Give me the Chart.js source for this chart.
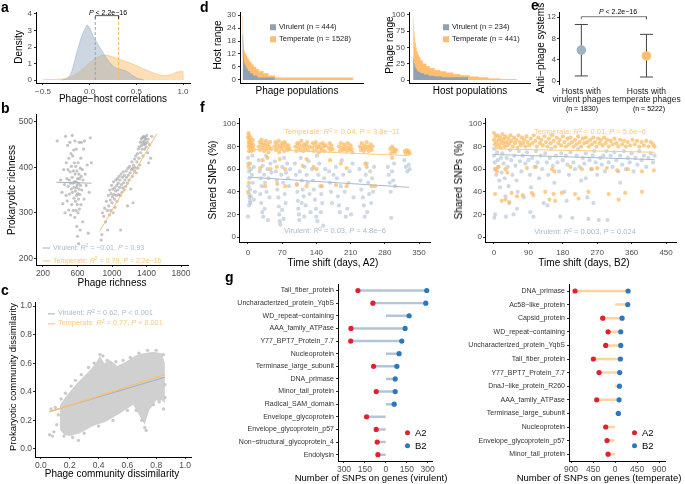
<!DOCTYPE html>
<html>
<head>
<meta charset="utf-8">
<script src="https://cdn.jsdelivr.net/npm/chart.js@4.4.0/dist/chart.umd.min.js"></script>
<style>
body{margin:0;background:#fff;width:685px;height:484px;position:relative;overflow:hidden;font-family:"Liberation Sans",Arial,sans-serif}
canvas{position:absolute}
.t{position:absolute;white-space:nowrap;line-height:1;transform:translate(-50%,-50%);color:#000}
.l{transform:translate(0,-50%)}
.r{transform:translate(-50%,-50%) rotate(-90deg)}
.lab{position:absolute;font-weight:bold;font-size:14px;line-height:14px}
sup{font-size:0.7em;line-height:0;vertical-align:0.45em}
.key{display:inline-block;width:7px;height:1px;vertical-align:middle;margin-right:3px}
.sq{display:inline-block;width:6px;height:6px;margin-right:3px;vertical-align:-0.5px}
.dot{display:inline-block;width:5px;height:5px;border-radius:50%;margin-right:5px;vertical-align:1px}
</style>
</head>
<body>
<script>
var FONT = '"Liberation Sans", Arial, sans-serif';
Chart.defaults.font.family = FONT;
var VIR = '#9fb3c8', TEM = '#fdbf6f', RED = '#e0202f', BLUE = '#2e77bd';

// a - density of phage-host correlations
var aVirX = [-0.3,-0.25,-0.2,-0.15,-0.1,-0.05,-0.025,0,0.05,0.08,0.1,0.15,0.2,0.25,0.3,0.35,0.4,0.45,0.5,0.55,0.58];
var aVirY = [0,0.08,0.4,1.4,2.4,3.1,3.33,3.15,2.5,2.25,2.05,1.6,1.15,0.85,0.68,0.62,0.52,0.32,0.14,0.04,0];
var aTemX = [-0.5,-0.4,-0.3,-0.2,-0.1,0,0.05,0.1,0.15,0.2,0.25,0.3,0.35,0.4,0.5,0.6,0.7,0.75,0.8,0.85,0.9,0.95,1.0,1.003];
var aTemY = [0.02,0.03,0.06,0.2,0.55,1.05,1.25,1.42,1.5,1.48,1.4,1.3,1.2,1.1,0.88,0.62,0.4,0.32,0.28,0.3,0.4,0.5,0.52,0];
var aMeans = [0.06, 0.31];
var aXTicks = [-0.5,0,0.5,1], aXLabels = ['−0.5','0.0','0.5','1.0'];
var aYTicks = [0,1,2,3,4];

// b - richness (x,y pairs)
var bVir = [365,458,405,372,420,345,430,320,440,395,450,362,455,300,462,468,468,338,470,410,478,375,480,326,485,448,490,395,492,358,498,306,500,420,505,372,508,341,512,455,515,390,518,365,520,295,525,430,528,352,530,402,533,318,538,378,540,470,542,345,545,425,548,365,550,305,553,392,556,438,558,356,560,332,563,410,565,368,568,290,570,458,572,385,575,348,577,325,580,402,582,368,584,305,586,440,588,355,590,338,592,270,594,392,596,360,598,318,600,248,602,375,604,342,606,300,608,410,610,365,612,330,614,232,616,385,618,352,620,455,622,308,625,375,628,340,630,262,632,398,635,360,638,420,640,318,643,380,646,455,650,350,655,395,660,280,665,372,670,440,676,330,682,458,690,385,700,360,712,405,725,255,735,345,748,465,760,410];
var bTem = [875,240,882,252,890,300,905,292,915,310,925,280,935,325,945,305,950,262,958,338,962,315,970,295,975,350,980,328,985,305,990,342,995,360,1000,322,1005,335,1010,352,1012,300,1018,368,1022,340,1028,330,1032,355,1035,312,1040,348,1045,372,1050,338,1055,360,1058,325,1062,375,1068,350,1072,365,1078,340,1082,380,1088,356,1092,372,1098,338,1100,262,1105,385,1110,362,1115,345,1120,378,1125,355,1130,390,1135,366,1140,350,1145,382,1150,372,1158,358,1165,392,1170,378,1178,365,1180,315,1185,398,1190,383,1198,372,1205,402,1210,388,1218,352,1225,395,1230,412,1235,380,1240,398,1245,322,1250,405,1258,392,1262,418,1268,400,1275,425,1280,388,1288,412,1295,430,1300,398,1305,440,1312,420,1318,445,1322,405,1328,455,1332,432,1338,462,1342,448,1348,440,1352,465,1356,455,1360,425,1365,468,1370,450,1375,458,1378,440,1382,466,1386,452,1392,462,1396,445,1402,470,1408,455,1412,432,1418,462,1425,410,1435,450,1448,420,1460,468];
var bVirFit = [355,367,763,365], bTemFit = [860,260,1520,474];
var bXTicks = [200,600,1000,1400,1800], bYTicks = [200,300,400,500];

// c - community dissimilarity (cloud outline + loose points)
var cUpX = [0.13,0.16,0.2,0.25,0.3,0.34,0.38,0.41,0.44,0.48,0.53,0.59,0.65,0.71,0.78,0.84,0.86];
var cUpY = [0.3,0.35,0.4,0.46,0.51,0.55,0.6,0.65,0.6,0.62,0.58,0.61,0.65,0.67,0.68,0.67,0.6];
var cLoX = [0.125,0.13,0.16,0.2,0.27,0.36,0.45,0.55,0.64,0.68,0.72,0.75,0.8,0.84,0.86,0.865];
var cLoY = [0.14,0.14,0.1,0.09,0.11,0.16,0.19,0.25,0.31,0.24,0.17,0.27,0.34,0.34,0.32,0.32];
var cOut = [0.06,0.1,0.08,0.09,0.09,0.12,0.07,0.28,0.1,0.29,0.12,0.24,0.11,0.17,0.14,0.35,0.17,0.39,0.21,0.44,0.24,0.48,0.28,0.52,0.33,0.57,0.37,0.6,0.41,0.66,0.43,0.65,0.46,0.62,0.52,0.61,0.57,0.62,0.62,0.64,0.68,0.67,0.74,0.69,0.8,0.69,0.85,0.66,0.86,0.45,0.86,0.36,0.85,0.28,0.72,0.15,0.73,0.13,0.7,0.2,0.66,0.27,0.6,0.27,0.5,0.2,0.4,0.16,0.3,0.11,0.22,0.08,0.16,0.09,0.78,0.31,0.82,0.33,0.26,0.06];
var cVirFit = [0.06,0.262,0.86,0.502], cTemFit = [0.06,0.26,0.86,0.52];
var cTicks = [0,0.2,0.4,0.6,0.8,1], cLabels = ['0.0','0.2','0.4','0.6','0.8','1.0'];

// d - host range / phage range, sorted populations (step start index, value)
var dVirX = [0,2,4,7,11,16,24,35,50,70,100,140,200,300,444];
var dVirY = [21,17,14,12,10,9,8,7,6,5,4,3,2,1,1];
var dTemX = [0,2,5,9,14,20,30,45,60,80,100,125,150,185,220,285,354,446,768,1528];
var dTemY = [29,25,21,18,16,14,13,12,11,10,9,8,7,6,5,4,3,2,1,1];
var dRVirX = [0,2,5,9,14,20,30,45,65,90,120,160,234];
var dRVirY = [35,30,25,20,17,14,12,10,8,6,5,4,4];
var dRTemX = [0,2,4,7,10,14,18,24,30,40,55,70,90,115,140,170,200,240,280,320,370,410,441];
var dRTemY = [97,85,75,65,57,50,44,39,35,30,25,21,18,15,13,11,9,7,5,4,2,1,1];

// e - anti-phage systems
var eGroups = [['Hosts with','virulent phages'],['Hosts with','temperate phages']];
var eN = ['(n = 1830)','(n = 5222)'];
var eMean = [5.8,4.7], eLow = [0.95,0.75], eHigh = [10.6,8.75];
var eTicks = [0,4,8,12];

// f - shared SNPs vs time shift (x,y pairs)
var fA2Tem = [0,88,1,84,1,80,1,92,2,90,2,76,3,86,3,82,4,78,5,84,5,88,6,80,7,76,8,83,9,79,10,86,11,81,12,77,1,62,2,48,0,40,4,65,
22,80,24,84,25,77,27,82,28,86,30,79,32,83,33,76,35,81,37,85,38,78,40,82,42,75,43,80,45,84,47,78,25,61,30,68,40,70,46,60,35,45,
54,80,56,84,57,77,59,82,61,79,63,85,64,75,66,81,68,78,70,83,72,80,74,76,75,84,77,82,79,79,81,77,83,81,85,78,59,62,65,69,76,60,76,45,60,47,
97,80,99,76,101,83,103,79,105,82,107,77,109,85,111,80,113,76,115,82,117,78,119,81,121,84,123,77,125,80,120,69,120,45,112,63,100,46,
131,79,133,83,135,76,137,81,139,84,141,78,143,80,145,75,147,82,149,79,151,77,153,83,155,80,157,76,159,81,134,62,151,45,140,60,
165,79,167,83,169,77,171,81,173,78,186,80,188,76,190,83,192,79,194,77,196,82,198,78,200,80,202,76,204,83,206,79,208,77,210,81,212,78,214,75,168,68,202,61,202,45,180,46,190,65,
229,80,231,77,233,83,235,79,237,76,239,81,241,78,243,84,245,80,247,76,249,79,251,82,253,77,255,80,243,62,240,65,253,45,260,45,
291,78,293,74,295,80,297,76,299,78,301,75,303,77,295,70,321,76,323,74,325,77,327,75,329,76,331,74];
var fA2Vir = [0,70,1,65,2,58,3,52,1,45,2,38,3,35,4,32,5,30,6,36,2,28,4,42,0,18,6,60,8,55,10,48,12,62,14,40,9,72,12,33,
22,68,24,58,26,52,28,45,25,38,27,30,29,22,31,18,30,63,33,55,35,48,37,72,38,40,40,60,42,52,44,35,46,65,48,57,34,25,41,15,
55,67,57,58,59,50,60,42,62,35,63,27,64,20,65,14,66,11,68,55,70,62,72,48,74,70,75,38,77,30,78,57,80,65,82,52,84,45,86,60,70,24,73,16,
96,65,98,55,100,47,101,40,102,32,103,25,104,20,105,15,106,58,108,70,110,50,112,42,114,36,116,62,118,28,120,55,122,48,124,67,126,38,128,22,110,30,115,18,
131,60,133,50,135,42,137,33,139,25,140,18,142,14,144,55,146,65,148,45,150,38,152,30,154,10,156,52,158,60,141,72,149,22,
166,58,168,48,170,40,172,30,175,55,180,62,182,52,184,36,186,28,188,22,190,45,192,68,195,55,198,40,200,18,203,25,206,48,208,58,211,20,214,65,216,35,
228,60,230,50,232,42,235,35,237,28,239,18,241,55,243,65,246,48,248,38,250,58,252,30,254,52,256,40,258,62,244,22,
286,62,288,55,290,48,292,40,293,17,295,58,297,50,299,65,301,45,320,68,323,62,326,58,329,64,331,60];
var fB2Tem = [0,92,0,86,2,82,4,89,6,84,8,80,10,90,12,86,14,82,16,88,18,79,20,85,22,91,24,83,26,87,28,80,30,89,32,84,35,81,38,87,40,83,43,90,46,85,49,80,52,88,55,83,58,86,61,79,64,90,67,84,70,81,73,88,76,83,79,86,82,80,85,89,88,84,92,81,96,87,100,83,104,90,108,85,112,80,116,88,120,83,124,86,128,81,132,89,136,84,140,80,144,87,148,83,152,90,156,85,160,80,164,88,168,83,172,86,176,81,180,89,184,84,188,80,192,87,196,82,200,88,204,84,208,80,212,86,216,82,220,89,224,84,228,80,232,87,236,83,240,88,244,84,248,80,252,86,256,82,260,88,264,84,268,80,272,87,276,83,280,86,284,81,288,88,292,83,296,86,300,80,305,85,310,82,315,87,320,83,325,80,330,86,335,82,340,85,345,80,350,84,356,81,362,86,368,82,374,85,380,80,386,84,392,81,398,85,404,80,410,84,416,82,420,80,
3,60,8,58,11,62,30,60,35,57,86,61,152,60,158,58,256,60,295,61,322,59,387,58,418,59,110,62,200,62,230,60,270,61,350,60,
3,38,20,32,30,33,40,31,46,39,99,39,103,37,134,40,145,33,156,38,160,32,177,39,212,38,221,34,247,40,300,38,326,33,343,39,387,40,60,36,75,37];
var fB2Vir = [0,78,0,72,2,66,4,60,6,55,3,20,1,17,8,75,10,68,12,62,14,50,16,44,18,70,20,57,22,74,25,65,28,52,30,36,31,18,33,70,36,62,38,45,40,30,42,77,45,68,48,55,51,20,53,72,56,63,59,50,62,40,65,76,68,67,72,58,75,72,78,35,82,65,86,75,90,68,94,55,97,44,100,70,103,18,106,62,110,76,114,66,118,52,122,72,126,60,130,30,134,74,138,66,142,55,146,70,150,78,154,63,158,48,162,72,166,66,170,58,173,18,176,74,180,68,184,40,188,72,192,64,196,55,200,75,205,17,208,66,212,60,216,72,220,78,224,62,228,50,232,70,236,65,240,74,244,35,247,16,250,68,254,60,258,72,262,76,266,66,270,55,274,15,278,70,282,64,286,72,290,58,294,76,297,15,300,66,305,72,310,62,315,75,320,68,325,58,330,72,335,64,340,76,345,60,350,70,355,66,360,74,365,58,370,70,375,64,380,76,386,68,392,72,398,62,404,70,410,74,416,66,420,72,60,25,140,28,190,32,260,30,95,22,330,48,240,52];
var fA2TemFit = [0,78,330,72], fA2VirFit = [0,53,330,44];
var fB2TemFit = [0,78,420,75], fB2VirFit = [0,73,420,68.5];
var fA2Ticks = [0,70,140,210,280,350], fB2Ticks = [0,90,180,270,360,450], fYTicks = [0,20,40,60,80,100];

// g - SNPs per gene, A2 shown to the left (negative), B2 to the right
var gVirGenes = ['Tail_fiber_protein','Uncharacterized_protein_YqbS','WD_repeat−containing','AAA_family_ATPase','Y77_BPT7_Protein_7.7','Nucleoprotein','Terminase_large_subunit','DNA_primase','Minor_tail_protein','Radical_SAM_domain','Envelope_glycoprotein','Envelope_glycoprotein_p57','Non−structural_glycoprotein_4','Endolysin'];
var gVirA2 = [-200,-93,null,-250,-252,null,-88,null,-69,null,-138,-69,-62,-57];
var gVirB2 = [293,286,167,138,114,95,79,67,67,60,null,null,null,null];
var gTemGenes = ['DNA_primase','Ac58−like_protein','Capsid_protein','WD_repeat−containing','Uncharacterized_protein_YqbS','Tail_fiber_protein','Y77_BPT7_Protein_7.7','DnaJ−like_protein_R260','AAA_family_ATPase','Terminase_large_subunit','Nucleoprotein','Envelope_glycoprotein_p57','Minor_tail_protein'];
var gTemA2 = [-818,null,-252,-143,-191,-443,-327,null,-375,null,-191,-164,-143];
var gTemB2 = [266,259,143,116,116,109,95,89,82,68,null,null,null];
var gVirTicks = [-300,-150,0,150,300], gTemTicks = [-900,-450,0,450,900];

function pairs(a) { var o = []; for (var i = 0; i < a.length; i += 2) o.push({x: a[i], y: a[i + 1]}); return o; }
function zip(xs, ys) { return xs.map(function (x, i) { return {x: x, y: ys[i]}; }); }
function line(data, color, w, extra) {
  var d = {data: data, showLine: true, borderColor: color, borderWidth: w, pointRadius: 0, fill: false};
  for (var k in extra) d[k] = extra[k];
  return d;
}
function dots(data, color, r) {
  return {data: data, showLine: false, pointRadius: r, pointBackgroundColor: color, backgroundColor: color, pointBorderWidth: 0, borderWidth: 0};
}
function mk(x, y, w, h) {
  var c = document.createElement('canvas');
  c.width = w; c.height = h;
  c.style.left = x + 'px'; c.style.top = y + 'px';
  c.style.width = w + 'px'; c.style.height = h + 'px';
  document.body.appendChild(c);
  return c.getContext('2d');
}
function axis(min, max, ticks, labels, size, more) {
  more = more || {};
  return {
    type: 'linear', min: min, max: max,
    afterBuildTicks: function (s) { s.ticks = ticks.map(function (v) { return {value: v}; }); },
    afterFit: function (s) { if (s.isHorizontal()) s.height = size; else s.width = size; },
    border: Object.assign({display: true, color: '#000', width: 1}, more.border),
    grid: Object.assign({drawOnChartArea: false, drawTicks: true, tickLength: 2, color: '#333', lineWidth: 1}, more.grid),
    ticks: Object.assign({autoSkip: false, maxRotation: 0, padding: 2, color: '#4d4d4d', font: {family: FONT, size: 8},
      callback: function (v, i) { return labels ? labels[i] : String(v); }}, more.ticks)
  };
}
function catAxis(size) {
  return {type: 'category', offset: true,
    afterFit: function (s) { s.width = size; },
    border: {display: true, color: '#000', width: 1},
    grid: {drawOnChartArea: false, offset: false, tickLength: 2, color: '#333'},
    ticks: {autoSkip: false, padding: 2, color: '#333', font: {family: FONT, size: 7}}};
}
function base(pt, pr, scales, extra) {
  var o = {responsive: false, animation: false, events: [],
    layout: {padding: {top: pt, right: pr, left: 0, bottom: 0}},
    plugins: {legend: {display: false}, tooltip: {enabled: false}},
    scales: scales};
  return Object.assign(o, extra || {});
}
function txt(html, x, y, size, opt) {
  opt = opt || {};
  var d = document.createElement('div');
  d.className = 't' + (opt.rot ? ' r' : '') + (opt.left ? ' l' : '');
  d.style.left = x + 'px'; d.style.top = y + 'px'; d.style.fontSize = size + 'px';
  if (opt.color) d.style.color = opt.color;
  d.innerHTML = html;
  document.body.appendChild(d);
}
function panel(ch, x, y) {
  var d = document.createElement('div');
  d.className = 'lab'; d.style.left = x + 'px'; d.style.top = y + 'px';
  d.textContent = ch;
  document.body.appendChild(d);
}

// ---- a
new Chart(mk(0, 0, 195, 106), {type: 'scatter', data: {datasets: [
  line(zip([aMeans[0], aMeans[0], aMeans[1], aMeans[1]], [3.72, 3.9, 3.9, 3.72]), '#333', 0.8),
  line(zip([aMeans[0], aMeans[0]], [0, 3.9]), '#8fa6bd', 1, {borderDash: [3, 2]}),
  line(zip([aMeans[1], aMeans[1]], [0, 3.9]), '#fbb95e', 1, {borderDash: [3, 2]}),
  line(zip(aVirX, aVirY), '#94a9be', 0.5, {fill: 'origin', backgroundColor: 'rgba(155,176,198,0.5)', cubicInterpolationMode: 'monotone'}),
  line(zip(aTemX, aTemY), '#f6bb66', 0.5, {fill: 'origin', backgroundColor: 'rgba(253,190,105,0.5)', cubicInterpolationMode: 'monotone'})
]}, options: base(12, 5, {x: axis(-0.575, 1.075, aXTicks, aXLabels, 23), y: axis(-0.18, 4.12, aYTicks, null, 36)})});

// ---- b
new Chart(mk(0, 108, 195, 182), {type: 'scatter', data: {datasets: [
  line(pairs(bVirFit), VIR, 1), line(pairs(bTemFit), TEM, 1),
  dots(pairs(bVir), 'rgba(150,150,150,0.55)', 1.6),
  dots(pairs(bTem), 'rgba(150,150,150,0.55)', 1.6)
]}, options: base(0, 7, {x: axis(119, 1881, bXTicks, null, 25, {ticks: {font: {family: FONT, size: 8.5}}}),
  y: axis(185, 517, bYTicks, null, 36, {ticks: {font: {family: FONT, size: 8.5}, padding: 1}})})});

// ---- c  (grey cloud: area under the upper edge, then cleared below the lower edge)
new Chart(mk(0, 292, 195, 192), {type: 'scatter', data: {datasets: [
  line(pairs(cTemFit), TEM, 1.2), line(pairs(cVirFit), VIR, 1.2),
  dots(pairs(cOut), 'rgba(200,200,200,0.95)', 1.7),
  line(zip(cLoX, cLoY), 'rgba(0,0,0,0)', 1, {fill: 'origin', backgroundColor: '#ffffff'}),
  line(zip(cUpX, cUpY), 'rgba(0,0,0,0)', 1, {fill: 'origin', backgroundColor: '#d0d0d0'})
]}, options: base(10, 3, {x: axis(-0.041, 1.041, cTicks, cLabels, 27, {ticks: {font: {family: FONT, size: 8.5}}}),
  y: axis(-0.056, 1.028, cTicks, cLabels, 35, {ticks: {font: {family: FONT, size: 8.5}, padding: 1}})})});

// ---- d
var noX = {ticks: {display: false}, grid: {display: false}};
new Chart(mk(200, 0, 168, 100), {type: 'scatter', data: {datasets: [
  line(zip(dVirX, dVirY), '#8fa1b3', 0.5, {fill: 'origin', backgroundColor: '#8fa1b3', stepped: 'after'}),
  line(zip(dTemX, dTemY), TEM, 0.5, {fill: 'origin', backgroundColor: TEM, stepped: 'after'})
]}, options: base(12, 5, {x: axis(-37, 1662, [], null, 17, noX), y: axis(-1.4, 31.4, [0, 6, 12, 18, 24, 30], null, 40)})});
new Chart(mk(370, 0, 165, 100), {type: 'scatter', data: {datasets: [
  line(zip(dRVirX, dRVirY), '#8fa1b3', 0.5, {fill: 'origin', backgroundColor: '#8fa1b3', stepped: 'after'}),
  line(zip(dRTemX, dRTemY), TEM, 0.5, {fill: 'origin', backgroundColor: TEM, stepped: 'after'})
]}, options: base(12, 5, {x: axis(-18, 498, [], null, 17, noX), y: axis(-4.6, 104.6, [0, 25, 50, 75, 100], null, 39)})});

// ---- e
var eDs = [line(pairs([1, 11.6, 1, 12.06, 2, 12.06, 2, 11.6]), '#555', 0.8)];
for (var i = 0; i < 2; i++) {
  eDs.push(dots([{x: i + 1, y: eMean[i]}], i ? TEM : VIR, 4.8));
  eDs.push(line([{x: i + 1, y: eLow[i]}, {x: i + 1, y: eHigh[i]}], '#444', 1));
  eDs.push(line([{x: i + 0.9, y: eHigh[i]}, {x: i + 1.1, y: eHigh[i]}], '#444', 1));
  eDs.push(line([{x: i + 0.9, y: eLow[i]}, {x: i + 1.1, y: eLow[i]}], '#444', 1));
}
new Chart(mk(532, 0, 153, 112), {type: 'scatter', data: {datasets: eDs},
  options: base(12, 5, {x: axis(0.657, 2.46, [1, 2], eGroups, 28, {border: {display: false}, grid: {display: false, drawTicks: false},
      ticks: {padding: 3, color: '#222', font: {family: FONT, size: 8.5, lineHeight: 1}}}),
    y: axis(-0.56, 12.94, eTicks, null, 27, {ticks: {padding: 1}})})});

// ---- f
new Chart(mk(200, 108, 235, 162), {type: 'scatter', data: {datasets: [
  line(pairs(fA2TemFit), '#fcca82', 1), line(pairs(fA2VirFit), '#a6bbcf', 1),
  dots(pairs(fA2Tem), 'rgba(253,186,96,0.72)', 2.1),
  dots(pairs(fA2Vir), 'rgba(160,180,201,0.5)', 2.1)
]}, options: base(10, 5, {x: axis(-18.4, 372.5, fA2Ticks, null, 28, {ticks: {padding: 4}}), y: axis(-4.4, 105.3, fYTicks, null, 39, {ticks: {padding: 1}})})});
new Chart(mk(445, 108, 235, 162), {type: 'scatter', data: {datasets: [
  line(pairs(fB2TemFit), '#fcca82', 1), line(pairs(fB2VirFit), '#a6bbcf', 1),
  dots(pairs(fB2Tem), 'rgba(253,186,96,0.72)', 2.1),
  dots(pairs(fB2Vir), 'rgba(160,180,201,0.5)', 2.1)
]}, options: base(10, 4, {x: axis(-23.5, 476, fB2Ticks, null, 28, {ticks: {padding: 4}}), y: axis(-4.4, 105.3, fYTicks, null, 40, {ticks: {padding: 1}})})});

// ---- g
function lolli(ctx, genes, a2, b2, segColor, ticks, min, max, wy, pt, pr) {
  var segs = genes.map(function (g, i) { return [Math.min(a2[i] === null ? 0 : a2[i], 0), Math.max(b2[i] === null ? 0 : b2[i], 0)]; });
  new Chart(ctx, {type: 'bar', data: {labels: genes, datasets: [
    {type: 'line', indexAxis: 'y', data: a2, showLine: false, pointRadius: 2.6, pointBackgroundColor: RED, pointBorderWidth: 0, borderWidth: 0},
    {type: 'line', indexAxis: 'y', data: b2, showLine: false, pointRadius: 2.6, pointBackgroundColor: BLUE, pointBorderWidth: 0, borderWidth: 0},
    {data: segs, backgroundColor: segColor, barThickness: 1.8, borderWidth: 0}
  ]}, options: base(pt, pr, {x: axis(min, max, ticks, ticks.map(function (v) { return String(Math.abs(v)); }), 23, {ticks: {font: {family: FONT, size: 8.5}}}),
    y: catAxis(wy)}, {indexAxis: 'y'})});
}
lolli(mk(200, 278, 237, 206), gVirGenes, gVirA2, gVirB2, '#b3c5d7', gVirTicks, -343, 336, 138, 2, 4);
lolli(mk(440, 278, 245, 206), gTemGenes, gTemA2, gTemB2, '#fdd49a', gTemTicks, -941, 1020, 129, 4, 20);

// ---- texts
panel('a', 1, 0); panel('b', 1, 101); panel('c', 1, 283); panel('d', 200, 0);
panel('e', 531, -2); panel('f', 200, 100); panel('g', 225, 270);

txt('Density', 19, 47, 10, {rot: 1});
txt('Phage−host correlations', 113, 99, 10);
txt('<i>P</i> &lt; 2.2e−16', 108, 12, 7);

txt('Prokaryotic richness', 12, 190, 10, {rot: 1});
txt('Phage richness', 112, 283, 10);
txt('<span class="key" style="background:' + VIR + '"></span>Virulent: <i>R</i><sup>2</sup> = −0.01, <i>P</i> = 0.93', 43, 247, 7, {left: 1, color: '#a7bbcf'});
txt('<span class="key" style="background:' + TEM + '"></span>Temperate: <i>R</i><sup>2</sup> = 0.79, <i>P</i> = 2.2e−16', 43, 260, 7, {left: 1, color: '#f8c77e'});

txt('Prokaryotic community dissimilarity', 13, 377, 9.5, {rot: 1});
txt('Phage community dissimilarity', 112, 474, 10);
txt('<span class="key" style="background:' + VIR + '"></span>Virulent: <i>R</i><sup>2</sup> = 0.62, <i>P</i> &lt; 0.001', 48, 313, 7.3, {left: 1, color: '#a7bbcf'});
txt('<span class="key" style="background:' + TEM + '"></span>Temperate: <i>R</i><sup>2</sup> = 0.77, <i>P</i> &lt; 0.001', 48, 323, 7.3, {left: 1, color: '#f8c77e'});

txt('Host range', 218, 45, 10, {rot: 1});
txt('Phage populations', 297, 91, 10);
txt('<span class="sq" style="background:#8fa1b3"></span>Virulent (n = 444)', 270, 27, 7.5, {left: 1, color: '#222'});
txt('<span class="sq" style="background:' + TEM + '"></span>Temperate (n = 1528)', 270, 39, 7.5, {left: 1, color: '#222'});
txt('Phage range', 390, 45, 10, {rot: 1});
txt('Host populations', 470, 91, 10);
txt('<span class="sq" style="background:#8fa1b3"></span>Virulent (n = 234)', 443, 27, 7.5, {left: 1, color: '#222'});
txt('<span class="sq" style="background:' + TEM + '"></span>Temperate (n = 441)', 443, 39, 7.5, {left: 1, color: '#222'});

txt('Anti−phage systems', 541, 48, 10, {rot: 1});
txt('<i>P</i> &lt; 2.2e−16', 618, 11, 7);
txt(eN[0], 582, 108, 7); txt(eN[1], 649, 108, 7);

txt('Shared SNPs (%)', 213, 180, 10, {rot: 1});
txt('Time shift (days, A2)', 333, 263, 10);
txt('Temperate: <i>R</i><sup>2</sup> = 0.04, <i>P</i> = 3.8e−11', 342, 132, 7.5, {color: '#f8c77e'});
txt('Virulent: <i>R</i><sup>2</sup> = 0.03, <i>P</i> = 4.8e−6', 335, 231, 7.5, {color: '#a7bbcf'});
txt('Shared SNPs (%)', 459, 180, 10, {rot: 1});
txt('Time shift (days, B2)', 584, 263, 10);
txt('Temperate: <i>R</i><sup>2</sup> = 0.01, <i>P</i> = 5.6e−6', 590, 132, 7.5, {color: '#f8c77e'});
txt('Virulent: <i>R</i><sup>2</sup> = 0.003, <i>P</i> = 0.024', 585, 232, 7.5, {color: '#a7bbcf'});

txt('Number of SNPs on genes (virulent)', 371, 478, 9.5);
txt('<span class="dot" style="background:' + RED + '"></span>A2', 405, 433, 9.5, {left: 1});
txt('<span class="dot" style="background:' + BLUE + '"></span>B2', 405, 446, 9.5, {left: 1});
txt('Number of SNPs on genes (temperate)', 599, 478, 9.5);
txt('<span class="dot" style="background:' + RED + '"></span>A2', 632, 433, 9.5, {left: 1});
txt('<span class="dot" style="background:' + BLUE + '"></span>B2', 632, 446, 9.5, {left: 1});
</script>
</body>
</html>
